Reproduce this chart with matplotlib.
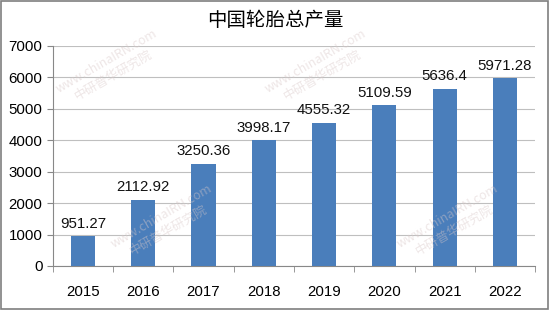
import matplotlib.pyplot as plt
from matplotlib.patches import Rectangle

years = ['2015', '2016', '2017', '2018', '2019', '2020', '2021', '2022']
output = [951.27, 2112.92, 3250.36, 3998.17, 4555.32, 5109.59, 5636.4, 5971.28]
labels = ['951.27', '2112.92', '3250.36', '3998.17', '4555.32', '5109.59', '5636.4', '5971.28']

plt.rcParams['font.family'] = ['Liberation Sans', 'Noto Sans CJK SC']

fig = plt.figure(figsize=(5.5, 3.1), dpi=100)
ax = fig.add_axes([0.096, 0.142, 0.877, 0.71])

x = range(len(years))
ax.bar(x, output, width=0.4, color='#4A7EBB', zorder=3)
for i, v in enumerate(output):
    ax.annotate(labels[i], (i, v), xytext=(0, 4), textcoords='offset points',
                ha='center', va='bottom', fontsize=10.8, color='#111111')

ax.set_ylim(0, 7000)
ax.set_yticks(range(0, 7001, 1000))
ax.set_xlim(-0.5, len(years) - 0.5)
ax.set_xticks(list(x))
ax.set_xticklabels(years)
ax.set_xticks([i + 0.5 for i in range(-1, len(years))], minor=True)
ax.tick_params(axis='x', which='major', length=0, pad=14, labelsize=10.8)
ax.tick_params(axis='x', which='minor', length=4, color='#888888')
ax.tick_params(axis='y', length=4, color='#888888', labelsize=10.8)
ax.grid(axis='y', color='#BFBFBF', linewidth=0.8, zorder=0)
for s in ['top', 'right']:
    ax.spines[s].set_visible(False)
ax.spines['left'].set_color('#888888')
ax.spines['bottom'].set_color('#888888')

fig.text(0.5, 0.935, '中国轮胎总产量', ha='center', va='center', fontsize=14,
         family=['Noto Sans CJK SC'])

# faint watermarks
for wx, wy in [(0.2, 0.78), (0.3, 0.28), (0.58, 0.78), (0.82, 0.28)]:
    fig.text(wx, wy, 'www.chinaIRN.com\n中研普华研究院', ha='center', va='center',
             rotation=30, fontsize=9, color='#D9C8C8', alpha=0.45,
             family=['Noto Sans CJK SC'], zorder=1)

fig.patches.append(Rectangle((0.002, 0.003), 0.995, 0.993, transform=fig.transFigure,
                             fill=False, edgecolor='#7F7F7F', linewidth=1.2))

fig.savefig('out.png', dpi=100)
